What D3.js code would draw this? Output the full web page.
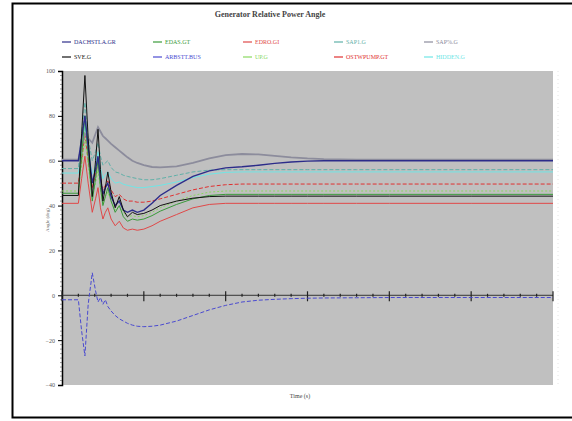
<!DOCTYPE html>
<html>
<head>
<meta charset="utf-8">
<script src="https://cdn.jsdelivr.net/npm/d3@7"></script>
<style>
  body { margin: 0; background: #fff; }
  text { font-family: "Liberation Serif", "DejaVu Serif", serif; }
</style>
</head>
<body>
<svg></svg>
<script>
// time samples (s)
const times = [0, 1, 1.2, 1.4, 1.6, 1.85, 2.05, 2.2, 2.35, 2.5, 2.65, 2.8, 3.0, 3.25, 3.5, 3.75, 4.0, 4.3, 4.6, 5, 5.5, 6, 7, 8, 9, 10, 11, 12, 13, 14, 15, 16, 18, 20, 25, 30];

const seriesNames = ["DACHSTLA.GR", "EDAS.GT", "EDRO.GI", "SAP1.G", "SAP%.G",
                     "SVE.G", "ARBSTT.BUS", "UP.G", "OSTWPUMP.GT", "HIDDEN.G"];

const dachstla = [60,60,70,80,66, 50,56,62,52,45, 48,50,44,40,42, 38,37,38,37,38, 41,44.5,49,53,55.5, 56.8,57.3,58,58.8,59.4, 59.8,60,60,60,60, 60];
const edas     = [45.5,45.5,62,80,62, 42,52,60,48,40, 44,48,42,37,40, 35,33,34,33.5,34, 35.5,37.5,40.5,43,44.5, 45,45,45,45,45, 45,45,45,45,45, 45];
const edro     = [41,41,52,62,50, 37,43,48,39,34, 37,39,34,31,33, 30,29,29.5,29,29.5, 31,33,36,39,40.5, 41,41,41,41,41, 41,41,41,41,41, 41];
const sap1     = [56.5,56.5,72,86,70, 60,64,68,62,58, 59,60,57,55,54.5, 53.5,53,52.5,52,51.5, 51.5,52,53.5,55,55.8, 56,56,56,56,56, 56,56,56,56,56, 56];
const sapPct   = [60.5,60.5,66,72,70, 68,72,75,73,71, 70,69,67.5,66,64.5, 63,61.5,60,59,58, 57.2,57,57.5,59,61, 62.5,63,62.8,62.2,61.5, 61,60.7,60.5,60.5,60.5, 60.5];
const sve      = [44.5,44.5,72,98,70, 44,60,74,56,42, 48,55,46,39,44, 38,35,37,36,36.5, 38,40,42,43.3,44, 44.2,44.2,44.2,44.2,44.2, 44.2,44.2,44.2,44.2,44.2, 44.2];
const arbstt   = [-2,-2,-16,-27,-4, 10,2,-3,-1,-4, -2,-5,-7,-9,-10.5, -11.5,-12.5,-13.3,-13.8,-14, -13.8,-13.3,-11.5,-9,-6.5, -4.5,-3,-2.2,-1.8,-1.5, -1.3,-1.2,-1.1,-1,-1, -1];
const up       = [46.5,46.5,58,70,58, 44,50,56,47,41, 44,46,42,38,40, 37,35,35.5,35,35.5, 37,39,42,44.5,46, 46.5,46.5,46.5,46.5,46.5, 46.5,46.5,46.5,46.5,46.5, 46.5];
const ostwpump = [50,50,60,72,60, 48,54,60,52,47, 49,51,47,44,45, 43,42,42,41.5,41.5, 42,43,45,47,48.5, 49.3,49.6,49.6,49.6,49.6, 49.6,49.6,49.6,49.6,49.6, 49.6];
const hidden   = [54.5,54.5,64,76,64, 54,58,64,57,52, 54,55,52,50,50.5, 49.5,49,48.5,48,48, 48.5,49,50.5,52.5,54, 54.8,55,55,55,55, 55,55,55,55,55, 55];

const seriesValues = [dachstla, edas, edro, sap1, sapPct, sve, arbstt, up, ostwpump, hidden];

const yTicks = [100, 80, 60, 40, 20, 0, -20, -40];

// styles
const colors = ["#2c2c8a", "#3a9a3a", "#e04848", "#5fb0a8", "#8c8c9c",
                "#111111", "#4a4ad0", "#8ad860", "#e03030", "#6fe6e6"];
const dashes = [null, null, null, "4,2", null, null, "4,2", "2,2", "4,2", null];
const widths = [1.4, 1, 1, 1, 1.8, 1, 1, 1, 1, 1];

const width = 572;
const height = 421;
const plotLeft = 62, plotRight = 553, plotTop = 71, plotBottom = 385;

const svg = d3.select('svg')
              .attr("width", width)
              .attr("height", height);

// outer frame
svg.append("rect")
   .attr("x", 12.5).attr("y", 3.5)
   .attr("width", 600).attr("height", 414)
   .attr("fill", "none")
   .attr("stroke", "#000")
   .attr("stroke-width", 2);

const xScale = d3.scaleLinear()
                 .domain([0, 30])
                 .range([plotLeft, plotRight]);

const yScale = d3.scaleLinear()
                 .domain([-40, 100])
                 .range([plotBottom, plotTop]);

// plot background
svg.append("rect")
   .attr("x", plotLeft).attr("y", plotTop)
   .attr("width", plotRight - plotLeft).attr("height", plotBottom - plotTop)
   .attr("fill", "#c0c0c0");

// faint right axis
svg.append("line")
   .attr("x1", 558).attr("x2", 558)
   .attr("y1", plotTop).attr("y2", plotBottom)
   .attr("stroke", "#e4e4e4")
   .attr("stroke-dasharray", "1,3");

// title
svg.append("text")
   .attr("x", 270).attr("y", 17)
   .attr("text-anchor", "middle")
   .style("font-size", "8px")
   .style("font-weight", "bold")
   .attr("fill", "#444")
   .text("Generator Relative Power Angle");

// legend
const legendX = [62, 153, 243, 334, 424];
const legend = svg.append("g");
seriesNames.forEach((name, i) => {
  const lx = legendX[i % 5];
  const ly = i < 5 ? 42 : 57;
  const g = legend.append("g").attr("transform", `translate(${lx},${ly})`);
  g.append("line")
   .attr("x1", 0).attr("x2", 9)
   .attr("y1", 0).attr("y2", 0)
   .attr("stroke", colors[i])
   .attr("stroke-width", 1.2);
  g.append("text")
   .attr("x", 12).attr("y", 2)
   .style("font-size", "6px")
   .attr("fill", colors[i])
   .text(name);
});

// y axis
const yAxis = d3.axisLeft(yScale)
                .tickValues(yTicks)
                .tickSize(4)
                .tickFormat(d3.format("d"));

const yAxisG = svg.append('g')
   .attr('transform', `translate(${plotLeft}, 0)`)
   .call(yAxis);
yAxisG.select(".domain").attr("stroke", "#000").attr("stroke-width", 1.5);
yAxisG.selectAll("text").style("font-size", "6px").attr("fill", "#555")
   .style("font-family", "Liberation Serif");

const yMinor = d3.range(-40, 101, 2).filter(v => v % 20 !== 0);
svg.append("g").selectAll("line")
   .data(yMinor)
   .enter()
   .append("line")
   .attr("x1", plotLeft - 2).attr("x2", plotLeft)
   .attr("y1", d => yScale(d)).attr("y2", d => yScale(d))
   .attr("stroke", "#555")
   .attr("stroke-width", 0.6);

svg.append("text")
   .attr("transform", "rotate(-90)")
   .attr("x", -220)
   .attr("y", 49)
   .style("text-anchor", "middle")
   .style("font-size", "5px")
   .attr("fill", "#666")
   .text("Angle (deg)");

// x axis along zero line
const xAxisY = yScale(0);
svg.append("line")
   .attr("x1", plotLeft).attr("x2", plotRight)
   .attr("y1", xAxisY).attr("y2", xAxisY)
   .attr("stroke", "#333")
   .attr("stroke-width", 1);

svg.append("g").selectAll("line")
   .data(d3.range(0, 31, 5))
   .enter()
   .append("line")
   .attr("x1", d => xScale(d)).attr("x2", d => xScale(d))
   .attr("y1", xAxisY - 4).attr("y2", xAxisY + 6)
   .attr("stroke", "#222")
   .attr("stroke-width", 1.2);

svg.append("g").selectAll("line")
   .data(d3.range(0, 31, 1).filter(v => v % 5 !== 0))
   .enter()
   .append("line")
   .attr("x1", d => xScale(d)).attr("x2", d => xScale(d))
   .attr("y1", xAxisY - 1.5).attr("y2", xAxisY + 1.5)
   .attr("stroke", "#222")
   .attr("stroke-width", 1.2);

svg.append("text")
   .attr("x", 300).attr("y", 398)
   .style("text-anchor", "middle")
   .style("font-size", "6px")
   .attr("fill", "#444")
   .text("Time (s)");

// series lines
const line = d3.line()
               .x((d, i) => xScale(times[i]))
               .y(d => yScale(d));

const drawOrder = [9, 8, 7, 4, 3, 2, 1, 6, 0, 5];
svg.append("g")
   .selectAll("path")
   .data(drawOrder)
   .enter()
   .append("path")
   .attr("d", i => line(seriesValues[i]))
   .attr("fill", "none")
   .attr("stroke", i => colors[i])
   .attr("stroke-width", i => widths[i])
   .attr("stroke-dasharray", i => dashes[i]);
</script>
</body>
</html>
